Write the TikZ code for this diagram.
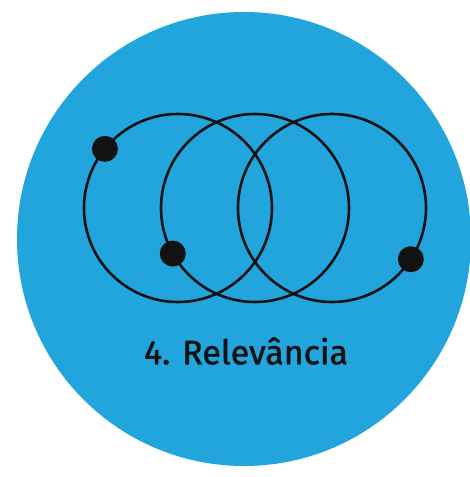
\documentclass[tikz,border=0pt]{standalone}
\usepackage{fontspec}
\setmainfont{Fira Sans}
\newfontfamily\titlefont{Fira Sans}[FakeBold=1.3]
\usetikzlibrary{positioning}
\definecolor{badgeblue}{HTML}{22A4DD}
\definecolor{inkblack}{HTML}{121212}
\tikzset{
  badge/.style={circle, fill=badgeblue, minimum size=454pt, inner sep=0pt},
  ring/.style={circle, draw=inkblack, line width=2.6pt, minimum size=188pt, inner sep=0pt, outer sep=0pt},
  dot/.style={circle, fill=inkblack, minimum size=26pt, inner sep=0pt},
}

\begin{document}
\begin{tikzpicture}[x=1pt,y=-1pt]
    \useasboundingbox (0,0) rectangle (469,477);
    \node[badge] (badge) at (244,239) {};
    % three overlapping rings
    \node[ring] (ringl) at (178,208) {};
    \node[ring] (ringm) at (255,208) {};
    \node[ring] (ringr) at (332,208) {};
    \node[dot] (dotl) at (ringl.141) {};
    \node[dot] (dotm) at (ringm.209) {};
    \node[dot] (dotr) at (ringr.-33) {};
    \node[font=\titlefont\fontsize{34}{40}\selectfont, text=inkblack] (title) at (246,351) {4. Relevância};
\end{tikzpicture}
\end{document}
